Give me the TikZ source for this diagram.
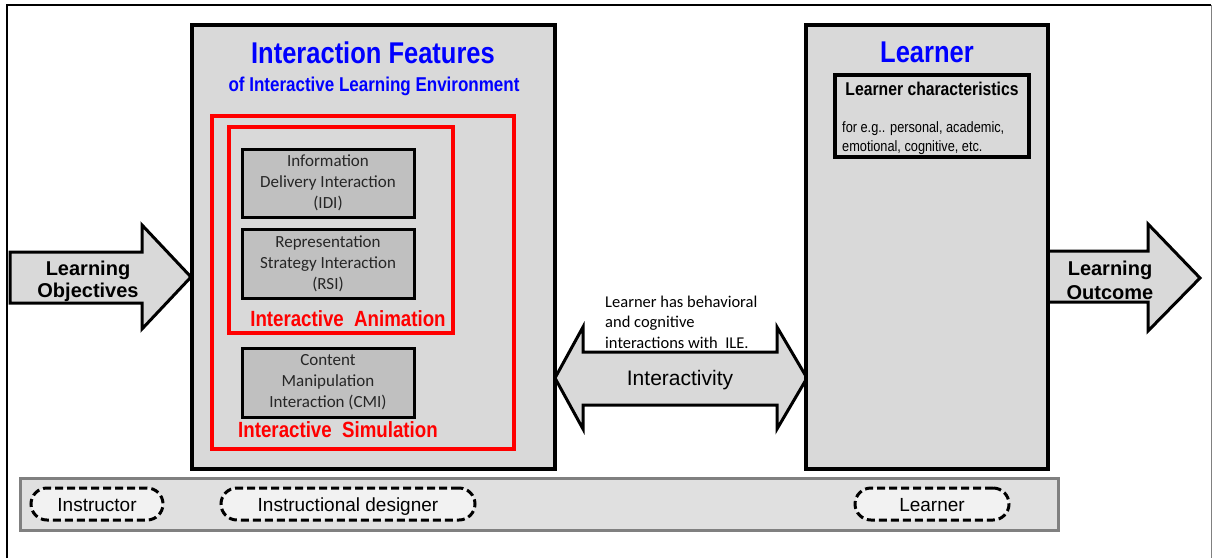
\documentclass[tikz,border=0pt]{standalone}
\usepackage{fontspec}
\setmainfont{Liberation Sans}
\newfontfamily\narrowfont{Liberation Sans}[FakeStretch=0.85]
\newfontfamily\calibrifont{Carlito}
\definecolor{boxgray}{HTML}{D9D9D9}
\definecolor{idigray}{HTML}{C0C0C0}
\definecolor{bargray}{HTML}{E0E0E0}
\definecolor{ovalgray}{HTML}{F2F2F2}

\begin{document}
\begin{tikzpicture}[x=1pt, y=-1pt,
        bigbox/.style={draw=black, line width=4pt, fill=boxgray},
        redbox/.style={draw=red, line width=4pt},
        blockarrow/.style={draw=black, line width=3pt, fill=boxgray, line join=miter},
        ibox/.style={draw=black, line width=3pt, fill=idigray, minimum width=172pt, minimum height=68pt,
            align=center, text=black!85, font=\calibrifont\fontsize{17}{21}\selectfont},
        role/.style={draw=black, line width=3pt, dash pattern=on 8pt off 4pt, fill=ovalgray,
            rounded corners=16pt, minimum height=32pt, text height=14pt, text depth=0pt,
            font=\fontsize{19}{22}\selectfont},
        lbl/.style={inner sep=0pt, anchor=base}]
                \useasboundingbox (0,0) rectangle (1212,558);
                \draw[black, line width=2pt] (7,558) -- (7,5) -- (1211,5);
                \draw[gray, line width=1pt] (1211,5) -- (1211,558);
                \filldraw[blockarrow] (10,252) -- (142,252) -- (142,225) -- (191,277) -- (142,329) -- (142,303) -- (10,303) -- cycle;
                \filldraw[blockarrow] (1048,251) -- (1148,251) -- (1148,224) -- (1200,278) -- (1148,331) -- (1148,302) -- (1048,302);
                \filldraw[blockarrow] (555,378) -- (583,327) -- (583,352) -- (777,352) -- (777,327) -- (807,378)
                    -- (777,429) -- (777,405) -- (583,405) -- (583,429) -- cycle;
                \filldraw[bigbox] (192,25) rectangle (555,469);
                \filldraw[bigbox] (806,25) rectangle (1048,469);
                \draw[redbox] (212,116) rectangle (514,449);
                \draw[redbox] (229,127) rectangle (453,333);
                \filldraw[bigbox] (835,75) rectangle (1029,157);
                \filldraw[fill=bargray, draw=gray, line width=3pt] (20,478) rectangle (1058,530);
                \node[lbl, text=blue, font=\narrowfont\bfseries\fontsize{30}{36}\selectfont] (ift) at (373,63) {Interaction Features};
                \node[lbl, text=blue, font=\narrowfont\bfseries\fontsize{20}{24}\selectfont] (ifs) at (374,91) {of Interactive Learning Environment};
                \node[lbl, text=blue, font=\narrowfont\bfseries\fontsize{30}{36}\selectfont] (lrt) at (927,62) {Learner};
                \node[ibox] (idi) at (328,183) {Information\\Delivery Interaction\\(IDI)};
                \node[ibox, minimum height=69pt] (rsi) at (328,263.5) {Representation\\Strategy Interaction\\(RSI)};
                \node[ibox, minimum height=69pt] (cmi) at (328,382.5) {Content\\Manipulation\\Interaction (CMI)};
                \node[lbl, text=red, font=\narrowfont\bfseries\fontsize{22}{26}\selectfont] (ani) at (348,326) {Interactive\ \ Animation};
                \node[lbl, text=red, font=\narrowfont\bfseries\fontsize{22}{26}\selectfont] (sim) at (338,437) {Interactive\ \ Simulation};
                \node[lbl, font=\narrowfont\bfseries\fontsize{18.5}{22}\selectfont] (lch) at (932,95) {Learner characteristics};
                \node[inner sep=0pt, anchor=west, align=left, font=\narrowfont\fontsize{15}{19}\selectfont] (lcx) at (842,138)
                    {for e.g.. personal, academic,\\emotional, cognitive, etc.};
                \node[align=center, font=\bfseries\fontsize{20}{22}\selectfont] (lob) at (88,281) {Learning\\Objectives};
                \node[align=center, font=\bfseries\fontsize{20}{24}\selectfont] (lou) at (1110,280) {Learning\\Outcome};
                \node[lbl, font=\fontsize{21}{25}\selectfont] (itv) at (680,385) {Interactivity};
                \node[inner sep=0pt, anchor=west, align=left, font=\calibrifont\fontsize{16.5}{20.5}\selectfont] (ile) at (605,322)
                    {Learner has behavioral\\and cognitive\\interactions with\ \ ILE.};
                \node[role, minimum width=132pt] (ins) at (97,504) {Instructor};
                \node[role, minimum width=254pt] (ind) at (348,504) {Instructional designer};
                \node[role, minimum width=154pt] (lrn) at (932,504) {Learner};
\end{tikzpicture}
\end{document}
